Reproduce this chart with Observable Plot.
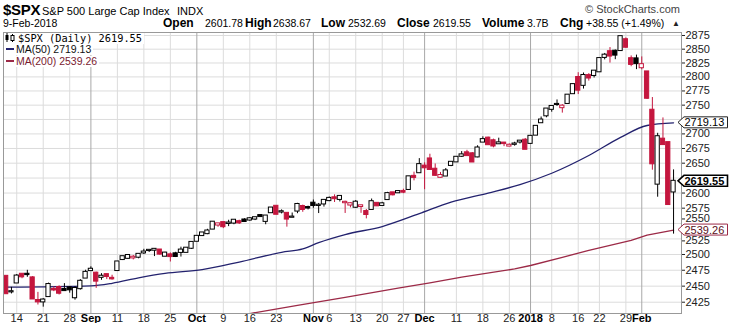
<!DOCTYPE html>
<html><head><meta charset="utf-8">
<script src="https://cdn.jsdelivr.net/npm/d3@7"></script>
<script src="https://cdn.jsdelivr.net/npm/@observablehq/plot@0.6"></script>
<style>
body{margin:0;width:730px;height:323px;overflow:hidden;position:relative;background:#fff;font-family:"Liberation Sans",Arial,sans-serif;color:#000}
.a{position:absolute;white-space:nowrap;line-height:1}
.b{font-weight:bold;font-size:12px}
.v{font-size:10.5px}
.lg{position:absolute;white-space:nowrap;background:#fff;height:11px;line-height:11px;padding-right:2px}
</style></head><body>
<div class="a" style="left:3px;top:2.3px;font-size:15px;font-weight:bold;letter-spacing:-0.3px">$SPX</div>
<div class="a" style="left:42px;top:5.7px;font-size:11px">S&amp;P 500 Large Cap Index</div>
<div class="a" style="left:177px;top:5.7px;font-size:11px">INDX</div>
<div class="a" style="left:585px;top:4px;font-size:11px;color:#444">© StockCharts.com</div>
<div class="a v" style="left:3px;top:18.1px">9-Feb-2018</div>
<div class="a b" style="left:163px;top:16.8px">Open</div>
<div class="a v" style="left:205px;top:18.1px">2601.78</div>
<div class="a b" style="left:245px;top:16.8px">High</div>
<div class="a v" style="left:273px;top:18.1px">2638.67</div>
<div class="a b" style="left:321px;top:16.8px">Low</div>
<div class="a v" style="left:348px;top:18.1px">2532.69</div>
<div class="a b" style="left:397px;top:16.8px">Close</div>
<div class="a v" style="left:433px;top:18.1px">2619.55</div>
<div class="a b" style="left:482px;top:16.8px">Volume</div>
<div class="a v" style="left:527px;top:18.1px">3.7B</div>
<div class="a b" style="left:560px;top:16.8px">Chg</div>
<div class="a v" style="left:586px;top:18.1px">+38.55 (+1.49%)</div>
<div class="a" style="left:672px;top:20px;font-size:8px;color:#222">▲</div>
<div id="chart" style="position:absolute;left:0;top:31px"></div>
<div id="legend"></div>
<script>
// ---- data ----
const dates = ["2017-08-10","2017-08-11","2017-08-14","2017-08-15","2017-08-16","2017-08-17","2017-08-18","2017-08-21","2017-08-22","2017-08-23","2017-08-24","2017-08-25","2017-08-28","2017-08-29","2017-08-30","2017-08-31",
"2017-09-01","2017-09-05","2017-09-06","2017-09-07","2017-09-08","2017-09-11","2017-09-12","2017-09-13","2017-09-14","2017-09-15","2017-09-18","2017-09-19","2017-09-20","2017-09-21","2017-09-22","2017-09-25","2017-09-26","2017-09-27","2017-09-28","2017-09-29",
"2017-10-02","2017-10-03","2017-10-04","2017-10-05","2017-10-06","2017-10-09","2017-10-10","2017-10-11","2017-10-12","2017-10-13","2017-10-16","2017-10-17","2017-10-18","2017-10-19","2017-10-20","2017-10-23","2017-10-24","2017-10-25","2017-10-26","2017-10-27","2017-10-30","2017-10-31",
"2017-11-01","2017-11-02","2017-11-03","2017-11-06","2017-11-07","2017-11-08","2017-11-09","2017-11-10","2017-11-13","2017-11-14","2017-11-15","2017-11-16","2017-11-17","2017-11-20","2017-11-21","2017-11-22","2017-11-24","2017-11-27","2017-11-28","2017-11-29","2017-11-30",
"2017-12-01","2017-12-04","2017-12-05","2017-12-06","2017-12-07","2017-12-08","2017-12-11","2017-12-12","2017-12-13","2017-12-14","2017-12-15","2017-12-18","2017-12-19","2017-12-20","2017-12-21","2017-12-22","2017-12-26","2017-12-27","2017-12-28","2017-12-29",
"2018-01-02","2018-01-03","2018-01-04","2018-01-05","2018-01-08","2018-01-09","2018-01-10","2018-01-11","2018-01-12","2018-01-16","2018-01-17","2018-01-18","2018-01-19","2018-01-22","2018-01-23","2018-01-24","2018-01-25","2018-01-26","2018-01-29","2018-01-30","2018-01-31",
"2018-02-01","2018-02-02","2018-02-05","2018-02-06","2018-02-07","2018-02-08","2018-02-09"];
const open = [2465.38,2441.04,2454.96,2468.66,2468.63,2462.95,2427.64,2425.50,2433.75,2444.88,2447.91,2444.72,2447.35,2431.94,2446.06,2462.65,
2474.42,2470.35,2463.83,2468.06,2462.25,2474.52,2491.94,2493.89,2494.56,2495.67,2502.51,2506.29,2506.84,2507.16,2497.26,2499.39,2501.04,2503.30,2503.41,2509.96,
2521.20,2530.34,2533.48,2540.86,2547.44,2551.39,2549.99,2550.62,2552.88,2555.66,2555.57,2557.17,2562.87,2553.39,2567.56,2578.08,2568.66,2566.52,2560.08,2570.26,2577.75,2575.99,
2583.21,2579.46,2581.93,2587.47,2592.11,2589.41,2584.00,2580.18,2576.53,2577.75,2569.45,2572.95,2582.94,2579.49,2589.17,2600.31,2600.42,2602.66,2605.94,2627.82,2633.93,
2645.10,2657.19,2639.78,2626.24,2628.38,2646.21,2652.19,2661.73,2667.59,2665.87,2660.63,2685.92,2692.71,2688.18,2683.02,2684.22,2679.09,2682.10,2686.10,2689.15,
2683.73,2697.85,2719.31,2731.33,2742.67,2751.15,2745.55,2752.97,2770.18,2798.96,2784.99,2802.40,2802.60,2809.16,2835.05,2845.42,2846.24,2847.48,2867.23,2832.74,2832.41,
2816.45,2808.92,2741.06,2614.78,2690.95,2685.01,2601.78];
const high = [2465.38,2448.09,2468.22,2468.90,2474.93,2465.02,2440.27,2430.58,2454.77,2448.91,2450.39,2453.96,2449.12,2449.19,2460.31,2475.01,
2480.38,2471.97,2469.64,2468.62,2467.11,2488.95,2496.77,2498.37,2498.43,2500.23,2508.32,2507.84,2508.85,2507.16,2503.47,2502.54,2503.51,2511.75,2510.81,2519.44,
2529.23,2535.13,2540.53,2552.51,2549.41,2551.82,2555.23,2555.24,2555.33,2557.65,2559.47,2559.71,2564.11,2562.36,2575.44,2578.29,2572.18,2567.40,2567.07,2582.98,2580.03,2578.29,
2588.40,2582.81,2588.42,2593.38,2597.02,2594.38,2586.50,2583.81,2587.66,2579.66,2572.84,2590.09,2583.96,2584.64,2601.19,2600.94,2604.21,2606.41,2627.69,2634.89,2657.74,
2650.62,2665.19,2648.72,2634.41,2640.99,2651.65,2660.33,2669.72,2671.88,2668.09,2679.63,2694.97,2694.44,2691.01,2692.64,2685.35,2682.74,2685.64,2687.66,2692.12,
2695.89,2714.37,2729.29,2743.45,2748.51,2759.14,2750.80,2767.56,2787.85,2807.54,2807.04,2805.83,2810.33,2833.03,2842.24,2852.97,2848.56,2872.87,2870.62,2837.75,2839.26,
2835.96,2808.92,2763.39,2701.04,2727.67,2685.27,2638.67];
const low = [2437.75,2437.85,2454.96,2461.61,2463.86,2430.01,2420.69,2417.35,2433.67,2441.42,2436.19,2442.22,2439.03,2428.20,2443.77,2462.65,
2473.85,2446.55,2459.20,2460.29,2459.40,2474.52,2490.37,2492.14,2491.35,2493.16,2499.92,2503.19,2496.67,2499.00,2496.54,2488.03,2495.12,2495.91,2502.93,2507.99,
2520.40,2528.85,2531.80,2540.02,2543.79,2541.60,2544.86,2547.95,2548.31,2552.09,2553.63,2554.69,2559.67,2547.92,2567.56,2564.33,2565.58,2544.00,2559.80,2565.94,2568.25,2572.15,
2574.92,2566.17,2576.77,2585.66,2584.35,2585.23,2566.33,2575.57,2574.48,2566.56,2557.45,2572.95,2577.62,2578.24,2589.17,2595.23,2600.42,2598.87,2605.44,2620.32,2633.93,
2605.52,2639.03,2627.73,2624.75,2628.38,2644.10,2651.47,2659.78,2662.85,2652.01,2659.14,2685.92,2680.74,2676.11,2682.40,2678.13,2677.96,2678.91,2682.69,2673.61,
2682.36,2697.77,2719.07,2727.92,2737.60,2747.86,2736.06,2752.78,2769.64,2768.64,2778.38,2792.56,2798.08,2808.12,2830.59,2824.81,2830.94,2846.18,2851.48,2818.27,2813.04,
2812.70,2759.97,2638.17,2593.07,2681.33,2580.56,2532.69];
const close = [2438.21,2441.32,2465.84,2464.61,2468.11,2430.01,2425.55,2428.37,2452.51,2444.04,2438.97,2443.05,2444.24,2446.30,2457.59,2471.65,
2476.55,2457.85,2465.54,2465.10,2461.43,2488.11,2496.48,2498.37,2495.62,2500.23,2503.87,2506.65,2508.24,2500.60,2502.22,2496.66,2496.84,2507.04,2510.06,2519.36,
2529.12,2534.58,2537.74,2552.07,2549.33,2544.73,2550.64,2555.24,2550.93,2553.17,2557.64,2559.36,2561.26,2562.10,2575.21,2564.98,2569.13,2557.15,2560.40,2581.07,2572.83,2575.26,
2579.36,2579.85,2587.84,2591.13,2590.64,2594.38,2584.62,2582.30,2584.84,2578.87,2564.62,2585.64,2578.85,2582.14,2599.03,2597.08,2602.42,2601.42,2627.04,2626.07,2647.58,
2642.22,2639.44,2629.57,2629.27,2636.98,2651.50,2659.99,2664.11,2662.85,2652.01,2675.81,2690.16,2681.47,2679.25,2684.57,2683.34,2680.50,2682.62,2687.54,2673.61,
2695.81,2713.06,2723.99,2743.15,2747.71,2751.29,2748.23,2767.56,2786.24,2776.42,2802.56,2798.03,2810.30,2832.97,2839.13,2837.54,2839.25,2872.87,2853.53,2822.43,2823.81,
2821.98,2762.13,2648.94,2695.14,2681.66,2581.00,2619.55];
const prevClose0 = 2474.02;

// moving averages at sample trading-day positions
const ma50Day = [0,16,20,25,30,37,44,52,56,59,64,71,78,84,91,97,103,110,116,121,126];
const ma50Val = [2448.5,2450.5,2454.5,2463,2470,2476,2488,2503.5,2509,2519,2532,2545,2566,2585,2600,2614,2633,2663,2694,2714.5,2719.13];
const ma200Day = [46,55,64,74,80,86,96,99,105,110,118,121,126];
const ma200Val = [2407.5,2420,2432.5,2447,2455,2464,2477,2482.5,2495.5,2506.5,2522.5,2531,2539.26];

const tickDay = [2,7,12,16,21,26,31,36,41,46,51,58,61,66,71,75,79,85,90,95,99,103,108,112,117,120];
const tickLabel = ["14","21","28","Sep","11","18","25","Oct","9","16","23","Nov","6","13","20","27","Dec","11","18","26","2018","8","16","22","29","Feb"];
const monthNames = ["Sep","Oct","Nov","Dec","2018","Feb"];
const yGrid = [2425,2450,2475,2500,2525,2550,2575,2600,2625,2650,2675,2700,2725,2750,2775,2800,2825,2850,2875];
const yLabels = [2425,2450,2475,2500,2575,2600,2650,2675,2700,2750,2775,2800,2825,2850,2875];
const yLabelAboveTag = [2550];
const yLabelBelowTag = [2525];

const legendTitle = "$SPX (Daily) 2619.55";
const ma50Label = "MA(50) 2719.13";
const ma200Label = "MA(200) 2539.26";
const tags = [{v:2719.13, t:"2719.13", kind:"ma50"},{v:2619.55, t:"2619.55", kind:"close"},{v:2539.26, t:"2539.26", kind:"ma200"}];

// ---- build ----
const RED = "#c4163e", BLACK = "#000", NAVY = "#23226e", MAROON = "#9c2a47";
const candles = dates.map((d, i) => {
  const prev = i ? close[i-1] : prevClose0;
  return {i, d, o: open[i], h: high[i], l: low[i], c: close[i], col: close[i] < prev ? RED : BLACK};
});
const ma50 = ma50Day.map((i, k) => ({i, v: ma50Val[k]}));
const ma200 = ma200Day.map((i, k) => ({i, v: ma200Val[k]}));
const labelOf = new Map(tickDay.map((d, k) => [d, tickLabel[k]]));
const monthTicks = tickDay.filter((d, k) => monthNames.includes(tickLabel[k]));
const dayTicks = tickDay.filter((d, k) => !monthNames.includes(tickLabel[k]));
const yAxisOpts = {anchor: "right", tickSize: 3, tickPadding: 1, tickFormat: d => String(d), fontSize: 11, color: "#222", label: null};

const plot = Plot.plot({
  width: 730, height: 292,
  marginTop: 1, marginBottom: 10, marginLeft: 3, marginRight: 49,
  x: {type: "linear", domain: [-0.5, 127.5], axis: null, label: null},
  y: {type: "log", domain: [2407.6, 2880.5], axis: null, label: null},
  color: {type: "identity"},
  style: {fontFamily: "Liberation Sans, Arial, sans-serif", overflow: "visible", background: "transparent"},
  marks: [
    Plot.ruleY(yGrid, {stroke: "#dcdcdc"}),
    Plot.ruleX(dayTicks, {stroke: "#dcdcdc"}),
    Plot.ruleX(monthTicks, {stroke: "#a8a8a8"}),
    Plot.line(ma200, {x: "i", y: "v", stroke: MAROON, strokeWidth: 1.3, clip: true}),
    Plot.line(ma50, {x: "i", y: "v", stroke: NAVY, strokeWidth: 1.3, curve: "monotone-x"}),
    Plot.ruleX(candles, {x: "i", y1: "l", y2: "h", stroke: "col"}),
    Plot.rect(candles, {x1: d => d.i - 0.4, x2: d => d.i + 0.4, y1: "o", y2: "c",
      fill: d => d.c > d.o ? "#fff" : d.col, stroke: "col", insetTop: -0.5, insetBottom: -0.5}),
    Plot.frame({stroke: "#999"}),
    Plot.axisY(yLabels, yAxisOpts),
    Plot.axisY(yLabelAboveTag, {...yAxisOpts, dy: -4.5}),
    Plot.axisY(yLabelBelowTag, {...yAxisOpts, dy: 2}),
    Plot.axisX(dayTicks, {tickSize: 0, tickPadding: 1, tickFormat: d => labelOf.get(d), fontSize: 11, color: "#222", label: null}),
    Plot.axisX(monthTicks, {tickSize: 0, tickPadding: 0.5, tickFormat: d => labelOf.get(d), fontSize: 11, fontWeight: "bold", color: "#000", label: null})
  ]
});
document.getElementById("chart").appendChild(plot);

// value tags on the right axis, positioned with the plot's own scales
const ys = plot.scale("y"), xs = plot.scale("x");
const xr = xs.apply(127.5);
const svg = d3.select(plot);
const tg = svg.append("g").attr("font-family", "Liberation Sans, Arial, sans-serif").attr("font-size", 11).attr("text-anchor", "start");
for (const t of tags) {
  const yc = ys.apply(t.v);
  const col = t.kind === "ma200" ? MAROON : (t.kind === "ma50" ? "#222" : "#000");
  tg.append("path")
    .attr("d", `M${xr-3},${yc} L${xr+3},${yc-5.5} H727.5 V${yc+5.5} H${xr+3} Z`)
    .attr("fill", "#fff").attr("stroke", col).attr("stroke-width", t.kind === "close" ? 1.6 : 1);
  tg.append("text").attr("x", xr + 3.5).attr("y", yc + 4)
    .attr("fill", t.kind === "ma200" ? "#5a1020" : "#000")
    .attr("font-weight", t.kind === "close" ? "bold" : "normal").text(t.t);
}

// in-plot legend
const lg = document.getElementById("legend");
lg.innerHTML = `
<div class="lg" style="left:4px;top:32.5px;font-family:'DejaVu Sans Mono',monospace;font-size:10.3px">
 <svg width="11" height="10" style="vertical-align:-1px;margin-right:3px"><line x1="3" y1="0" x2="3" y2="9" stroke="#000"/><rect x="1.5" y="2" width="3" height="5" fill="#000"/><line x1="8.5" y1="1" x2="8.5" y2="9" stroke="#000"/><rect x="7" y="2.5" width="3" height="5" fill="#fff" stroke="#000"/></svg>${legendTitle}</div>
<div class="lg" style="left:4px;top:44px;font-size:10.5px;color:#111"><span style="display:inline-block;width:8px;height:2px;background:${NAVY};vertical-align:3px;margin:0 2px 0 2px"></span>${ma50Label}</div>
<div class="lg" style="left:4px;top:56px;font-size:10.5px;color:#7a1a30"><span style="display:inline-block;width:8px;height:2px;background:${MAROON};vertical-align:3px;margin:0 2px 0 2px"></span>${ma200Label}</div>`;
</script>
</body></html>
